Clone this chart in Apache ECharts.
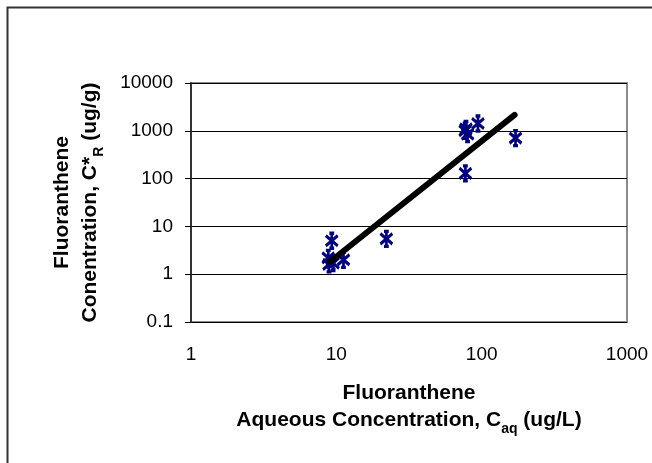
<!DOCTYPE html>
<html>
<head>
<meta charset="utf-8">
<script src="https://cdn.jsdelivr.net/npm/echarts@6/dist/echarts.min.js"></script>
<style>
html,body{margin:0;padding:0;background:#fff;}
#chart{width:652px;height:463px;}
</style>
</head>
<body>
<div id="chart"></div>
<script>
// Data
const aqueousConc = [8.8, 8.9, 9.5, 11.2, 9.3, 22.1, 77.3, 77, 80, 78, 94.3, 171];
const sorbedConc  = [2.2, 1.6, 1.7, 2.0, 5.0, 5.5, 129, 1000, 850, 1100, 1420, 705];
const trendX = [9.0, 168.6];
const trendY = [1.8, 2154];
const xTicks = ['1', '10', '100', '1000'];
const yTicks = ['0.1', '1', '10', '100', '1000', '10000'];

const points = aqueousConc.map((x, i) => [x, sorbedConc[i]]);
const trend = trendX.map((x, i) => [x, trendY[i]]);

const FONT = 'Liberation Sans, Arial, sans-serif';
const chart = echarts.init(document.getElementById('chart'));
chart.setOption({
  animation: false,
  backgroundColor: '#fff',
  textStyle: { fontFamily: FONT },
  grid: {
    left: 191, top: 83, right: 25, bottom: 141,
    show: true, borderColor: '#8c8c8c', borderWidth: 2, backgroundColor: 'transparent'
  },
  graphic: [
    { type: 'rect', left: 5, top: 5, shape: { width: 700, height: 520 },
      style: { fill: 'none', stroke: '#333', lineWidth: 2 }, silent: true }
  ],
  xAxis: {
    type: 'log', logBase: 10, min: 1, max: 1000,
    axisLine: { show: false },
    axisTick: { show: false },
    splitLine: { show: false },
    axisLabel: {
      color: '#000', fontSize: 19, fontFamily: FONT, margin: 23,
      formatter: v => { const s = String(Math.round(v)); return xTicks.includes(s) ? s : ''; }
    },
    name: '{b|Fluoranthene}\n{b|Aqueous Concentration, C}{sub|aq}{b| (ug/L)}',
    nameLocation: 'middle', nameGap: 58,
    nameTextStyle: {
      rich: {
        b: { fontSize: 21, fontWeight: 'bold', color: '#000', fontFamily: FONT, lineHeight: 27 },
        sub: { fontSize: 14, fontWeight: 'bold', color: '#000', fontFamily: FONT, lineHeight: 27, verticalAlign: 'bottom', padding: [0, 0, -2, 0] }
      }
    }
  },
  yAxis: {
    type: 'log', logBase: 10, min: 0.1, max: 10000,
    axisLine: { show: true, lineStyle: { color: '#333', width: 2 } },
    axisTick: { show: true, inside: false, length: 6, lineStyle: { color: '#000', width: 1 } },
    splitLine: { show: true, lineStyle: { color: '#000', width: 1 } },
    axisLabel: {
      color: '#000', fontSize: 19, fontFamily: FONT, margin: 18,
      formatter: v => { const s = String(+v.toPrecision(6)); return yTicks.includes(s) ? s : ''; }
    },
    name: '{b|Fluoranthene}\n{b|Conentration, C*}{sub|R}{b| (ug/g)}',
    nameLocation: 'middle', nameGap: 87, nameRotate: 90,
    nameTextStyle: {
      rich: {
        b: { fontSize: 21, fontWeight: 'bold', color: '#000', fontFamily: FONT, lineHeight: 28 },
        sub: { fontSize: 14, fontWeight: 'bold', color: '#000', fontFamily: FONT, lineHeight: 28, verticalAlign: 'bottom', padding: [0, 0, -2, 0] }
      }
    }
  },
  series: [
    {
      type: 'scatter',
      data: points,
      symbol: 'path://M5,0L5,13M0,2L10,11M0,11L10,2M3,0L7,0M3,13L7,13',
      symbolSize: [12, 15],
      itemStyle: { color: 'transparent', borderColor: '#000080', borderWidth: 3, opacity: 1 },
      z: 2
    },
    {
      type: 'line',
      data: trend,
      showSymbol: false,
      symbol: 'none',
      lineStyle: { color: '#000', width: 6, cap: 'round' },
      z: 3
    }
  ]
});
</script>
</body>
</html>
